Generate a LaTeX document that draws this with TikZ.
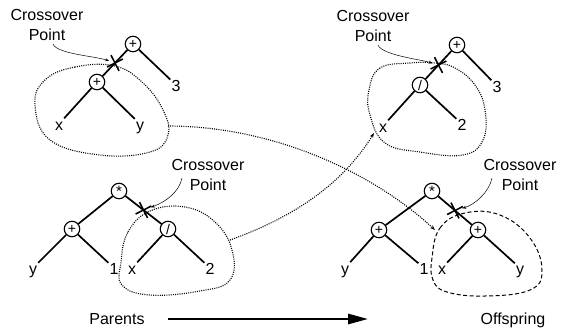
\documentclass[tikz,border=0pt]{standalone}
\usepackage{fontspec}
\setmainfont{Liberation Sans}
\usetikzlibrary{
  arrows.meta,
  calc,
  positioning,
  shapes.misc
}
\newcommand{\opstar}{\raisebox{-0.3em}{\fontsize{15}{15}\selectfont *}}

\begin{document}
\begin{tikzpicture}[
  x=1pt, y=-1pt,
  op/.style={circle, draw, line width=1.1pt, minimum size=15.5pt, inner sep=0pt,
             fill=white, font=\fontsize{14}{14}\selectfont},
  leaf/.style={anchor=base, inner xsep=1pt, inner ysep=4pt, text height=12pt,
               text depth=0pt, font=\fontsize{16}{16}\selectfont},
  branch/.style={line width=1.7pt},
  cut/.style={cross out, draw, line width=1.5pt, minimum size=11pt,
              inner sep=0pt, rotate=-18},
  cpt/.style={align=center, font=\fontsize{16}{20}\selectfont},
  hint/.style={line width=0.5pt, -{Stealth[length=4pt,width=3pt]}},
  region/.style={line width=1.1pt, dash pattern=on 1pt off 1.2pt},
  swap/.style={region, -{Stealth[length=5pt,width=3.5pt]}},
  bigarr/.style={line width=2.6pt, -{Triangle[length=20pt,width=10pt]}}
]
\useasboundingbox (0,0) rectangle (563,333);

% Parent 1: (x+y)+3
\node[op] (p1root) at (133,44) {+};
\node[op] (p1sub) at (97,82) {+};
\node[leaf] (p1three) at (176,91) {3};
\node[leaf] (p1x) at (59,130) {x};
\node[leaf] (p1y) at (140,130) {y};
\draw[branch] (p1root) -- (p1sub);
\draw[branch] (p1root) -- (p1three);
\draw[branch] (p1sub) -- (p1x);
\draw[branch] (p1sub) -- (p1y);
\node[cut] (p1cut) at ($(p1root)!0.5!(p1sub)$) {};
\node[cpt] (p1lbl) at (47,25) {Crossover\\Point};
\draw[hint] ([xshift=6pt]p1lbl.south) .. controls +(5,10) and +(-20,-7) .. (p1cut);
\draw[region] plot[smooth cycle, tension=0.7] coordinates
  {(115,66) (75,67) (45,80) (35,105) (50,140) (100,155) (150,152) (168,135) (163,110) (143,83)};
\coordinate (p1out) at (168,126);

% Parent 2: (y+1)*(x/2)
\node[op] (p2root) at (119,191) {\opstar};
\node[op] (p2left) at (72,229) {+};
\node[op] (p2sub) at (168,229) {/};
\node[leaf] (p2y) at (33,274) {y};
\node[leaf] (p2one) at (114,274) {1};
\node[leaf] (p2x) at (132,274) {x};
\node[leaf] (p2two) at (210,274) {2};
\draw[branch] (p2root) -- (p2left);
\draw[branch] (p2root) -- (p2sub);
\draw[branch] (p2left) -- (p2y);
\draw[branch] (p2left) -- (p2one);
\draw[branch] (p2sub) -- (p2x);
\draw[branch] (p2sub) -- (p2two);
\node[cut] (p2cut) at ($(p2root)!0.5!(p2sub)$) {};
\node[cpt] (p2lbl) at (208,175) {Crossover\\Point};
\draw[hint] ([xshift=-26pt,yshift=16pt]p2lbl.south) .. controls +(-3,14) and +(22,-8) .. (p2cut);
\draw[region] plot[smooth cycle, tension=0.7] coordinates
  {(121,262) (128,232) (150,211) (185,207) (215,222) (232,250) (230,280) (200,291) (150,295) (122,285)};
\coordinate (p2out) at (230,240);

% Offspring 1: (x/2)+3
\node[op] (o1root) at (457,45) {+};
\node[op] (o1sub) at (420,85) {/};
\node[leaf] (o1three) at (497,92) {3};
\node[leaf] (o1x) at (383,132) {x};
\node[leaf] (o1two) at (462,130) {2};
\draw[branch] (o1root) -- (o1sub);
\draw[branch] (o1root) -- (o1three);
\draw[branch] (o1sub) -- (o1x);
\draw[branch] (o1sub) -- (o1two);
\node[cut] (o1cut) at ($(o1root)!0.5!(o1sub)$) {};
\node[cpt] (o1lbl) at (373,26) {Crossover\\Point};
\draw[hint] ([xshift=5pt]o1lbl.south) .. controls +(5,10) and +(-20,-6) .. (o1cut);
\draw[region] plot[smooth cycle, tension=0.7] coordinates
  {(410,63) (380,68) (369,90) (370,115) (385,143) (420,152) (463,155) (483,140) (485,110) (475,85) (455,68) (435,63)};
\coordinate (o1in) at (374,133);

% Offspring 2: (y+1)*(x+y)
\node[op] (o2root) at (432,191) {\opstar};
\node[op] (o2left) at (379,230) {+};
\node[op] (o2sub) at (478,230) {+};
\node[leaf] (o2y) at (345,274) {y};
\node[leaf] (o2one) at (424,274) {1};
\node[leaf] (o2x) at (442,274) {x};
\node[leaf] (o2yy) at (520,274) {y};
\draw[branch] (o2root) -- (o2left);
\draw[branch] (o2root) -- (o2sub);
\draw[branch] (o2left) -- (o2y);
\draw[branch] (o2left) -- (o2one);
\draw[branch] (o2sub) -- (o2x);
\draw[branch] (o2sub) -- (o2yy);
\node[cut] (o2cut) at ($(o2root)!0.5!(o2sub)$) {};
\node[cpt] (o2lbl) at (520,175) {Crossover\\Point};
\draw[hint] ([xshift=-28pt,yshift=16pt]o2lbl.south) .. controls +(-3,14) and +(20,-6) .. (o2cut);
\draw[line width=1pt, dash pattern=on 4pt off 2.5pt] plot[smooth cycle, tension=0.7] coordinates
  {(432,258) (440,228) (465,213) (500,215) (530,238) (542,270) (530,290) (485,296) (447,292) (433,280)};
\coordinate (o2in) at (435,230);

% subtrees swapped
\draw[swap] (p1out) .. controls (270,126) and (370,170) .. (o2in);
\draw[swap] (p2out) .. controls (300,215) and (345,180) .. (o1in);

% Parents -> Offspring
\node[anchor=base, font=\fontsize{16}{16}\selectfont] (parents) at (117,324.5) {Parents};
\node[anchor=base, font=\fontsize{16}{16}\selectfont] (offspring) at (513,324.5) {Offspring};
\draw[bigarr] ([xshift=20pt,yshift=5.5pt]parents.base east) -- ([xshift=-109pt,yshift=5.5pt]offspring.base west);

\end{tikzpicture}
\end{document}
